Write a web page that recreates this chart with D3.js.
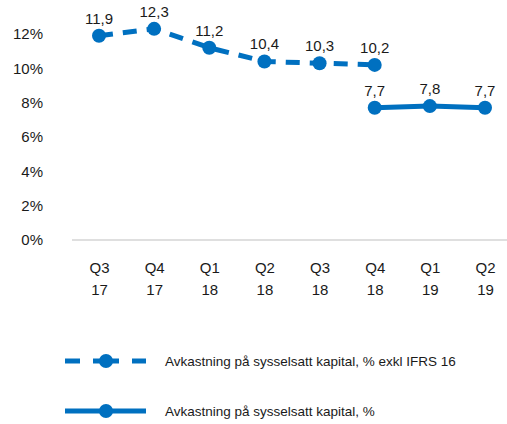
<!DOCTYPE html>
<html><head><meta charset="utf-8">
<script src="https://cdn.jsdelivr.net/npm/d3@7"></script>
<style>body{margin:0;background:#fff}svg{display:block;font-family:"Liberation Sans",Arial,sans-serif}</style>
</head><body><svg id="c" width="507" height="424"></svg>
<script>
const quarters = ["Q3","Q4","Q1","Q2","Q3","Q4","Q1","Q2"];
const years = ["17","17","18","18","18","18","19","19"];
const exklIFRS = [11.9,12.3,11.2,10.4,10.3,10.2,null,null];
const inklIFRS = [null,null,null,null,null,7.7,7.8,7.7];
const yTicks = [0,2,4,6,8,10,12];
const seriesNames = ["Avkastning på sysselsatt kapital, % exkl IFRS 16","Avkastning på sysselsatt kapital, %"];

const color = "#0070C0", textColor = "#1a1a1a";
const FONT = "Liberation Sans, Arial, sans-serif";
const svg = d3.select("#c");
const idx = d3.range(quarters.length);
const x = d3.scalePoint().domain(idx).range([99, 485]);
const y = d3.scaleLinear().domain([0,12]).range([240, 34]);

// y axis labels
const ya = svg.append("g").attr("transform","translate(43,0)")
  .call(d3.axisLeft(y).tickValues(yTicks).tickFormat(d=>d+"%").tickSize(0).tickPadding(0));
ya.select(".domain").remove();
ya.selectAll("text").attr("font-size",15).attr("fill",textColor).attr("font-family",FONT);

// baseline
svg.append("line").attr("x1",72).attr("x2",507).attr("y1",y(0)).attr("y2",y(0))
  .attr("stroke","#bfbfbf").attr("stroke-width",1);

// x axis labels (two lines)
const xa = svg.append("g").attr("transform","translate(0,"+y(0)+")")
  .call(d3.axisBottom(x).tickSize(0).tickFormat(()=>""));
xa.select(".domain").remove();
xa.selectAll(".tick text").remove();
xa.selectAll(".tick").each(function(d){
  const g = d3.select(this);
  g.append("text").attr("x",0).attr("y",33).attr("text-anchor","middle")
    .attr("font-size",15).attr("fill",textColor).attr("font-family",FONT).text(quarters[d]);
  g.append("text").attr("x",0).attr("y",55).attr("text-anchor","middle")
    .attr("font-size",15).attr("fill",textColor).attr("font-family",FONT).text(years[d]);
});

function drawSeries(vals, dash){
  const line = d3.line().defined(d=>vals[d]!=null).x(d=>x(d)).y(d=>y(vals[d]));
  svg.append("path").datum(idx).attr("d",line).attr("fill","none")
    .attr("stroke",color).attr("stroke-width",5).attr("stroke-dasharray",dash||null);
  const pts = idx.filter(d=>vals[d]!=null);
  svg.append("g").selectAll("circle").data(pts).join("circle")
    .attr("cx",d=>x(d)).attr("cy",d=>y(vals[d])).attr("r",7).attr("fill",color);
  svg.append("g").selectAll("text").data(pts).join("text")
    .attr("x",d=>x(d)).attr("y",d=>y(vals[d])-12).attr("text-anchor","middle")
    .attr("font-size",15).attr("fill",textColor)
    .text(d=>vals[d].toFixed(1).replace(".",","));
}
drawSeries(exklIFRS, "14,10");
drawSeries(inklIFRS, null);

// legend
const leg = [
  {name:seriesNames[0],segs:[[65,80],[93,119],[132,146]],y:361},
  {name:seriesNames[1],segs:[[65,146]],y:411}
];
leg.forEach(l=>{
  l.segs.forEach(s=>{
    svg.append("line").attr("x1",s[0]).attr("x2",s[1]).attr("y1",l.y).attr("y2",l.y)
      .attr("stroke",color).attr("stroke-width",5);
  });
  svg.append("circle").attr("cx",106).attr("cy",l.y).attr("r",7).attr("fill",color);
  svg.append("text").attr("x",165).attr("y",l.y+5).attr("font-size",13.5).attr("fill",textColor).text(l.name);
});
</script></body></html>
